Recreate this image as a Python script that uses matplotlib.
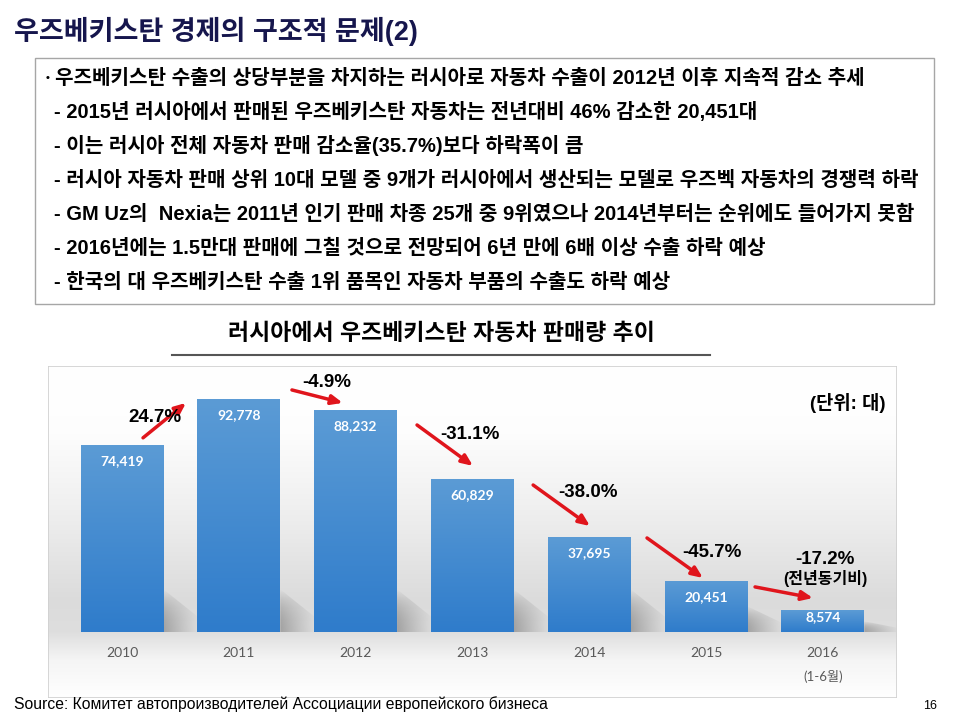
import numpy as np
import matplotlib
matplotlib.use('Agg')
import matplotlib.pyplot as plt
from matplotlib.patches import Rectangle, Polygon
from matplotlib.colors import LinearSegmentedColormap
from matplotlib.lines import Line2D

# ---------------- data ----------------
years = ['2010', '2011', '2012', '2013', '2014', '2015', '2016']
year_notes = ['', '', '', '', '', '', '(1-6월)']
sales = [74419, 92778, 88232, 60829, 37695, 20451, 8574]
change_labels = ['24.7%', '-4.9%', '-31.1%', '-38.0%', '-45.7%', '-17.2%']

title = '우즈베키스탄 경제의 구조적 문제(2)'
bullet_head = '우즈베키스탄 수출의 상당부분을 차지하는 러시아로 자동차 수출이 2012년 이후 지속적 감소 추세'
bullet_items = [
    '- 2015년 러시아에서 판매된 우즈베키스탄 자동차는 전년대비 46% 감소한 20,451대',
    '- 이는 러시아 전체 자동차 판매 감소율(35.7%)보다 하락폭이 큼',
    '- 러시아 자동차 판매 상위 10대 모델 중 9개가 러시아에서 생산되는 모델로 우즈벡 자동차의 경쟁력 하락',
    '- GM Uz의  Nexia는 2011년 인기 판매 차종 25개 중 9위였으나 2014년부터는 순위에도 들어가지 못함',
    '- 2016년에는 1.5만대 판매에 그칠 것으로 전망되어 6년 만에 6배 이상 수출 하락 예상',
    '- 한국의 대 우즈베키스탄 수출 1위 품목인 자동차 부품의 수출도 하락 예상',
]
chart_title = '러시아에서 우즈베키스탄 자동차 판매량 추이'
unit_label = '(단위: 대)'
yoy_note = '(전년동기비)'
source = 'Source: Комитет автопроизводителей Ассоциации европейского бизнеса'
page_no = '16'

# ---------------- style ----------------
KR = ['Liberation Sans', 'Noto Sans CJK KR']
NUM = ['Lato', 'Noto Sans CJK KR']
plt.rcParams['font.family'] = KR

W, H = 960, 720
fig = plt.figure(figsize=(9.6, 7.2), dpi=100)
fig.patch.set_facecolor('white')


def fx(x):
    return x / W


def fy(y):
    return 1 - y / H


# title
fig.text(fx(14), fy(31), title, fontsize=19.5, fontweight='bold', color='#16164d',
         ha='left', va='center')

# text box
fig.add_artist(Rectangle((fx(35), fy(304)), fx(934) - fx(35), fy(58) - fy(304),
                         transform=fig.transFigure, fill=False, edgecolor='#a6a6a6', lw=1))
line_y = [78, 112, 146, 180, 214, 248, 282]
fig.text(fx(46), fy(line_y[0]), '•', fontsize=8, fontweight='bold', ha='left', va='center')
fig.text(fx(55), fy(line_y[0]), bullet_head, fontsize=14.5, fontweight='bold',
         ha='left', va='center', color='black')
for yy, item in zip(line_y[1:], bullet_items):
    fig.text(fx(54), fy(yy), item, fontsize=14.5, fontweight='bold', ha='left',
             va='center', color='black')

# chart title + underline
fig.text(fx(441), fy(334), chart_title, fontsize=16.5, fontweight='bold',
         ha='center', va='center', color='black')
fig.add_artist(Line2D([fx(172), fx(710)], [fy(355), fy(355)], transform=fig.transFigure,
                      color='#555555', lw=1.5))

# ---------------- chart panel ----------------
px_left, px_right, px_top, px_bot = 48, 897, 366, 698
base_px = 632
scale = 233.0 / 92778.0          # px per unit
ymax = (base_px - px_top) / scale
ymin = -(px_bot - base_px) / scale
step_px = 116.8
first_px = 122
xl = -(first_px - px_left) / step_px
xr = len(years) - 1 + (px_right - (first_px + step_px * (len(years) - 1))) / step_px

ax = fig.add_axes([fx(px_left), fy(px_bot), fx(px_right) - fx(px_left), fy(px_top) - fy(px_bot)])
ax.set_xlim(xl, xr)
ax.set_ylim(ymin, ymax)
ax.axis('off')

# background gradient (vertical)
ny = 400
pys = np.linspace(px_top, px_bot, ny)
stops_px = [366, 430, 520, 600, 632, 660, 698]
stops_v = [1.0, 0.995, 0.93, 0.86, 0.87, 0.96, 1.0]
vals = np.interp(pys, stops_px, stops_v)
bg = np.dstack([vals, vals, vals]).reshape(ny, 1, 3)
ax.imshow(bg, extent=[xl, xr, ymin, ymax], aspect='auto', zorder=0, interpolation='bilinear')

# panel border
ax.add_patch(Rectangle((0, 0), 1, 1, transform=ax.transAxes, fill=False,
                       edgecolor='#d0d0d0', lw=1.2, zorder=10))

x = np.arange(len(years))
width = 0.71
bar_cmap = LinearSegmentedColormap.from_list('barg', ['#2f7ccb', '#5b9bd5'])

# shadows
for xi, v in zip(x, sales):
    sh = min(v * 0.5, 17000)
    nx_, ny_ = 40, 30
    rgba = np.zeros((ny_, nx_, 4))
    rgba[..., :3] = 0.45
    ax_frac = np.linspace(0, 1, nx_)[None, :]
    ay_frac = np.linspace(1, 0, ny_)[:, None]   # top row = 1
    alpha = 0.55 * (1 - ax_frac) ** 1.2 * (1 - ay_frac ** 2)
    rgba[..., 3] = alpha
    x0 = xi + width / 2
    im = ax.imshow(rgba, extent=[x0, x0 + 0.32, 0, sh], aspect='auto', zorder=1,
                   interpolation='bilinear')
    poly = Polygon([[x0, 0], [x0, sh], [x0 + 0.32, sh * 0.3], [x0 + 0.32, 0]],
                   closed=True, transform=ax.transData, facecolor='none', edgecolor='none')
    ax.add_patch(poly)
    im.set_clip_path(poly)

bars = ax.bar(x, sales, width=width, color='none', edgecolor='none', zorder=2)
grad = np.linspace(0, 1, 100)[:, None]
for b in bars:
    bx, by = b.get_x(), b.get_y()
    bw, bh = b.get_width(), b.get_height()
    im = ax.imshow(grad, extent=[bx, bx + bw, by, by + bh], origin='lower', aspect='auto',
                   cmap=bar_cmap, zorder=2, interpolation='bilinear')
    im.set_clip_path(b)

ax.set_xlim(xl, xr)
ax.set_ylim(ymin, ymax)

# value labels (inside top of bars)
for xi, v in zip(x, sales):
    h_px = v * scale
    off_px = min(16.0, h_px * 0.33)
    ax.annotate(f'{v:,}', (xi, v), xytext=(0, -off_px * 0.72), textcoords='offset points',
                ha='center', va='center', color='white', fontsize=10, fontweight='bold',
                family=NUM, zorder=5)

# year labels
for xi, yl, note in zip(x, years, year_notes):
    ax.annotate(yl, (xi, 0), xytext=(0, -15), textcoords='offset points', ha='center',
                va='center', color='#595959', fontsize=10, family=NUM, zorder=5)
    if note:
        ax.annotate(note, (xi, 0), xytext=(0, -32), textcoords='offset points',
                    ha='center', va='center', color='#595959', fontsize=9.5,
                    family=['Lato', 'Noto Sans CJK KR'], zorder=5)

# change arrows (start/end offsets relative to neighbouring bars)
arrow_start_dx = [0.18, 0.455, 0.526, 0.52, 0.495, 0.42]
arrow_start_dy = [2900, 3600, -5800, -2300, -250, -2500]
arrow_end_dx = [-0.452, -0.11, 0.005, 0.007, -0.026, -0.084]
arrow_end_dy = [-1550, 3000, 5300, 4500, 1060, 4970]
label_dx = [0.28, 0.755, 0.98, 0.99, 1.05, 1.02]
label_y = [85300, 99200, 78500, 55400, 31500, 28700]

for i, lab in enumerate(change_labels):
    xs, ys_ = x[i] + arrow_start_dx[i], sales[i] + arrow_start_dy[i]
    xe, ye = x[i + 1] + arrow_end_dx[i], sales[i + 1] + arrow_end_dy[i]
    ax.annotate('', xy=(xe, ye), xytext=(xs, ys_),
                arrowprops=dict(arrowstyle='-|>,head_length=0.65,head_width=0.28',
                                color='#e0151c', lw=2.5, shrinkA=0, shrinkB=0), zorder=4)
    ax.text(x[i] + label_dx[i], label_y[i], lab, ha='center', va='center', fontsize=13.5,
            fontweight='bold', color='black', zorder=6)

ax.text(x[-1] + 0.02, label_y[-1] - 7200, yoy_note, ha='center', va='center', fontsize=11.5,
        fontweight='bold', color='black', zorder=6)
ax.text(0.986, 0.89, unit_label, transform=ax.transAxes, ha='right', va='center',
        fontsize=13.5, fontweight='bold', color='black', zorder=6)

# footer
fig.text(fx(14), fy(704), source, fontsize=11.3, ha='left', va='center', color='black',
         family=['Liberation Sans'])
fig.text(fx(930), fy(706), page_no, fontsize=9, ha='center', va='center', color='black',
         family=['Liberation Sans'])

fig.savefig('out.png', dpi=100, facecolor='white')
